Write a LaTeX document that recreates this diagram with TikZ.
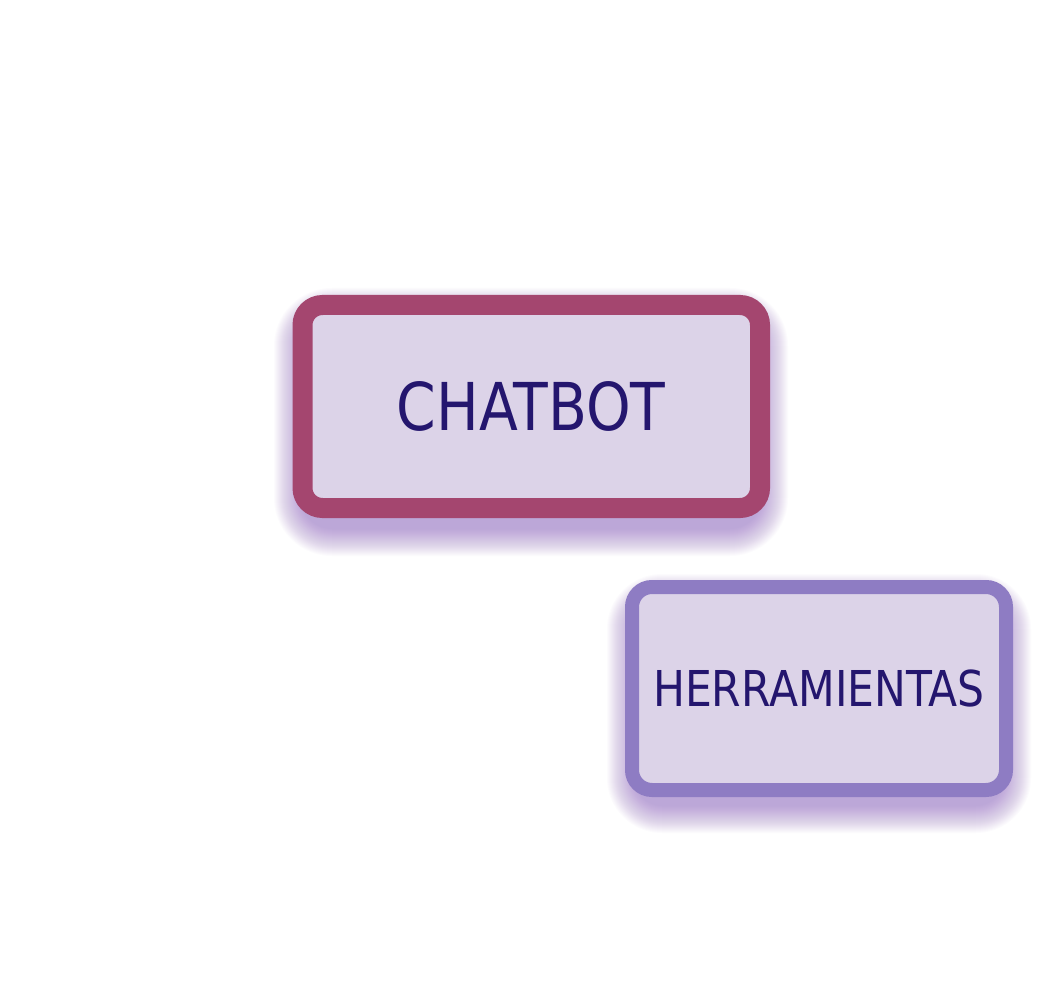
\documentclass[tikz,border=0pt]{standalone}
\usepackage{fontspec}
\newfontfamily\boxfont[FakeStretch=0.86]{DejaVu Sans}
\definecolor{cbborder}{HTML}{A4466F}
\definecolor{hrborder}{HTML}{8E7CC3}
\definecolor{boxfill}{HTML}{DCD3E8}
\definecolor{boxtext}{HTML}{24166E}
\definecolor{shadowc}{HTML}{8A5CC0}
\tikzset{
  box/.style={draw, fill=boxfill, text=boxtext, rounded corners=20pt, inner sep=0pt,
    font=\boxfont, text depth=0pt},
  chatbox/.style={box, draw=cbborder, line width=20pt, minimum width=457.5pt, minimum height=203pt},
  toolbox/.style={box, draw=hrborder, line width=14pt, minimum width=374pt, minimum height=203pt},
  shadowlayer/.style={fill=shadowc, fill opacity=0.022}
}
\begin{document}
\begin{tikzpicture}[x=1pt,y=-1pt]
\useasboundingbox[fill=white] (0,0) rectangle (1063,992);
% soft shadows
\foreach \k in {0,...,27}{
  \pgfmathsetmacro{\e}{28-\k}
  \fill[shadowlayer, rounded corners={30+\e}] (292-\e+10,294-\e+22) rectangle (770+\e-10,520+\e+8);
  \fill[shadowlayer, rounded corners={27+\e}] (625-\e+10,580-\e+22) rectangle (1013+\e-10,797+\e+8);
}
\node[chatbox, text height=48pt, font=\boxfont\fontsize{66}{70}\selectfont] (chatbot) at (531.25,406.5) {CHATBOT};
\node[toolbox, text height=36pt, font=\boxfont\fontsize{49.4}{52}\selectfont] (tools) at (819,688.5) {HERRAMIENTAS};
\end{tikzpicture}
\end{document}
